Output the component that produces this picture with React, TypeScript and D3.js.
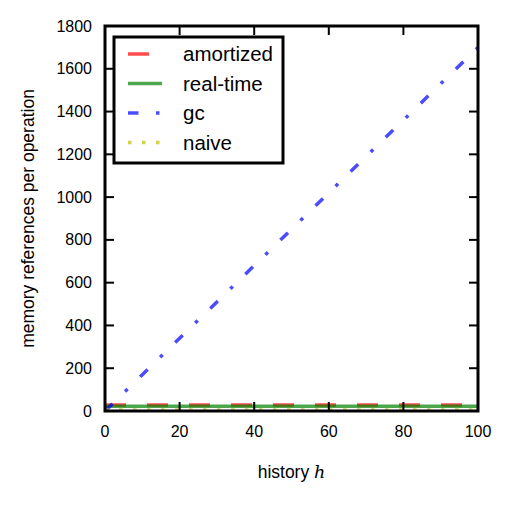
import React, { useEffect, useRef } from "react";
import * as d3 from "d3";

const history = [0, 10, 20, 30, 40, 50, 60, 70, 80, 90, 100];
const amortized = [28, 28, 28, 28, 28, 28, 28, 28, 28, 28, 28];
const realTime = [22, 22, 22, 22, 22, 22, 22, 22, 22, 22, 22];
const gc = [0, 170, 340, 510, 680, 850, 1020, 1190, 1360, 1530, 1700];
const naive = [5, 5, 5, 5, 5, 5, 5, 5, 5, 5, 5];

const xTicks = [0, 20, 40, 60, 80, 100];
const yTicks = [0, 200, 400, 600, 800, 1000, 1200, 1400, 1600, 1800];

const series = [
  { name: "amortized", values: amortized, color: "#ff0000", dash: "21,21" },
  { name: "real-time", values: realTime, color: "#008000", dash: "" },
  { name: "gc", values: gc, color: "#0000ff", dash: "10.5,17.5,3.5,17.5" },
  { name: "naive", values: naive, color: "#bfbf00", dash: "3.5,10.5" },
];

const App = () => {
  const ref = useRef<SVGSVGElement>(null);

  useEffect(() => {
    const width = 512;
    const height = 512;
    const margin = { top: 26, right: 34, bottom: 101, left: 105 };
    const innerWidth = width - margin.left - margin.right;
    const innerHeight = height - margin.top - margin.bottom;
    const font = "'Liberation Sans', Arial, sans-serif";

    const svg = d3.select(ref.current);
    svg.selectAll("*").remove();

    const x = d3.scaleLinear().domain([0, 100]).range([0, innerWidth]);
    const y = d3.scaleLinear().domain([0, 1800]).range([innerHeight, 0]);

    const g = svg.append("g").attr("transform", `translate(${margin.left},${margin.top})`);

    g.append("defs").append("clipPath").attr("id", "plot-clip")
      .append("rect").attr("width", innerWidth).attr("height", innerHeight);

    const line = d3.line<number>()
      .x((d, i) => x(history[i]))
      .y(d => y(d));

    const lines = g.append("g").attr("clip-path", "url(#plot-clip)");
    series.forEach(s => {
      lines.append("path")
        .datum(s.values)
        .attr("d", line)
        .attr("fill", "none")
        .attr("stroke", s.color)
        .attr("stroke-opacity", 0.7)
        .attr("stroke-width", 3.5)
        .attr("stroke-dasharray", s.dash || null);
    });

    // ticks inside on all sides
    const tickLen = 9;
    xTicks.forEach(t => {
      g.append("line").attr("x1", x(t)).attr("x2", x(t)).attr("y1", innerHeight).attr("y2", innerHeight - tickLen)
        .attr("stroke", "#000").attr("stroke-width", 2);
      g.append("line").attr("x1", x(t)).attr("x2", x(t)).attr("y1", 0).attr("y2", tickLen)
        .attr("stroke", "#000").attr("stroke-width", 2);
      g.append("text").attr("x", x(t)).attr("y", innerHeight + 26)
        .attr("text-anchor", "middle").style("font-family", font).style("font-size", "16px")
        .text(t);
    });
    yTicks.forEach(t => {
      g.append("line").attr("x1", 0).attr("x2", tickLen).attr("y1", y(t)).attr("y2", y(t))
        .attr("stroke", "#000").attr("stroke-width", 2);
      g.append("line").attr("x1", innerWidth).attr("x2", innerWidth - tickLen).attr("y1", y(t)).attr("y2", y(t))
        .attr("stroke", "#000").attr("stroke-width", 2);
      g.append("text").attr("x", -13).attr("y", y(t)).attr("dy", "0.35em")
        .attr("text-anchor", "end").style("font-family", font).style("font-size", "16px")
        .text(t);
    });

    g.append("rect").attr("width", innerWidth).attr("height", innerHeight)
      .attr("fill", "none").attr("stroke", "#000").attr("stroke-width", 3);

    // legend
    const legend = g.append("g").attr("transform", `translate(${114 - margin.left},${37 - margin.top})`);
    legend.append("rect").attr("width", 169).attr("height", 126)
      .attr("fill", "#fff").attr("stroke", "#000").attr("stroke-width", 3);
    series.forEach((s, i) => {
      const ly = 17 + i * 29.5;
      legend.append("line").attr("x1", 14).attr("x2", 48).attr("y1", ly).attr("y2", ly)
        .attr("stroke", s.color).attr("stroke-opacity", 0.7).attr("stroke-width", 3.5)
        .attr("stroke-dasharray", s.dash || null);
      legend.append("text").attr("x", 69).attr("y", ly).attr("dy", "0.35em")
        .style("font-family", font).style("font-size", "20.5px").text(s.name);
    });

    // axis labels
    const xl = svg.append("text").attr("x", margin.left + innerWidth / 2).attr("y", 478)
      .attr("text-anchor", "middle").style("font-family", font).style("font-size", "17.5px");
    xl.append("tspan").text("history ");
    xl.append("tspan").style("font-family", "'DejaVu Serif', serif").style("font-style", "italic").text("h");

    svg.append("text").attr("transform", "rotate(-90)")
      .attr("x", -(margin.top + innerHeight / 2)).attr("y", 34)
      .attr("text-anchor", "middle").style("font-family", font).style("font-size", "17.5px")
      .text("memory references per operation");
  }, []);

  return <svg ref={ref} width={512} height={512} style={{ position: "absolute", left: 0, top: 0 }}></svg>;
};

export default App;
